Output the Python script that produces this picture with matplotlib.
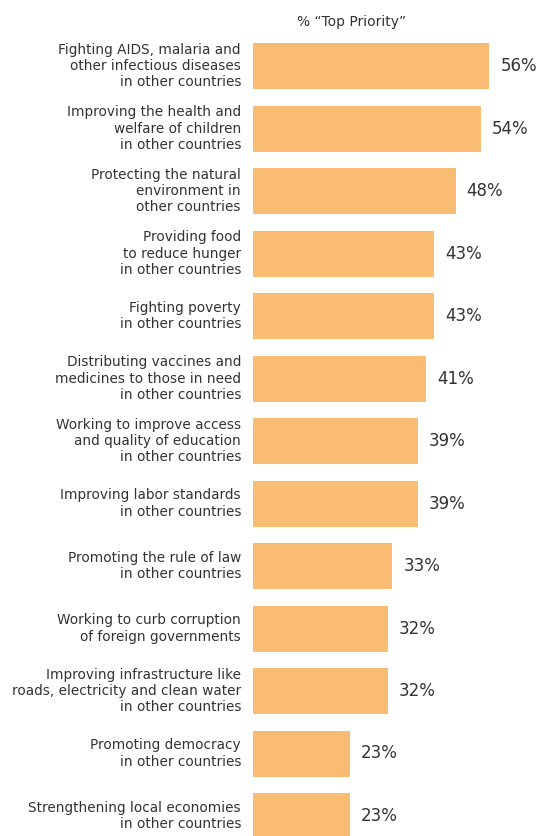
import matplotlib
matplotlib.use('Agg')
import matplotlib.pyplot as plt

# ===== DATA =====
labels = [
    'Fighting AIDS, malaria and\nother infectious diseases\nin other countries',
    'Improving the health and\nwelfare of children\nin other countries',
    'Protecting the natural\nenvironment in\nother countries',
    'Providing food\nto reduce hunger\nin other countries',
    'Fighting poverty\nin other countries',
    'Distributing vaccines and\nmedicines to those in need\nin other countries',
    'Working to improve access\nand quality of education\nin other countries',
    'Improving labor standards\nin other countries',
    'Promoting the rule of law\nin other countries',
    'Working to curb corruption\nof foreign governments',
    'Improving infrastructure like\nroads, electricity and clean water\nin other countries',
    'Promoting democracy\nin other countries',
    'Strengthening local economies\nin other countries',
]
values = [56, 54, 48, 43, 43, 41, 39, 39, 33, 32, 32, 23, 23]
title = '% \u201cTop Priority\u201d'

bar_color = '#FABB73'
text_color = '#333333'
plt.rcParams['font.family'] = ['DejaVu Sans']

# ===== FIGURE =====
W, H = 547, 836
fig = plt.figure(figsize=(W / 100, H / 100), dpi=100)
x0 = 253
ax = fig.add_axes([x0 / W, 0, 1 - x0 / W, 1])

px_per_unit_x = 4.22
px_per_row = 62.5
first_center = 66
ax.set_xlim(0, (W - x0) / px_per_unit_x)
ax.set_ylim((H - first_center) / px_per_row, -first_center / px_per_row)
ax.axis('off')

pos = list(range(len(values)))
ax.barh(pos, values, height=46 / px_per_row, color=bar_color)

for i, (lab, v) in enumerate(zip(labels, values)):
    ax.text(-12 / px_per_unit_x, i, lab, ha='right', va='center',
            fontsize=9.8, color=text_color, linespacing=1.2, clip_on=False)
    ax.text(v + 11 / px_per_unit_x, i, f'{v}%', ha='left', va='center',
            fontsize=12, color=text_color)

ax.text((352 - x0) / px_per_unit_x, -44 / px_per_row, title,
        ha='center', va='center', fontsize=10, color=text_color)

fig.savefig('out.png', dpi=100, facecolor='white')
